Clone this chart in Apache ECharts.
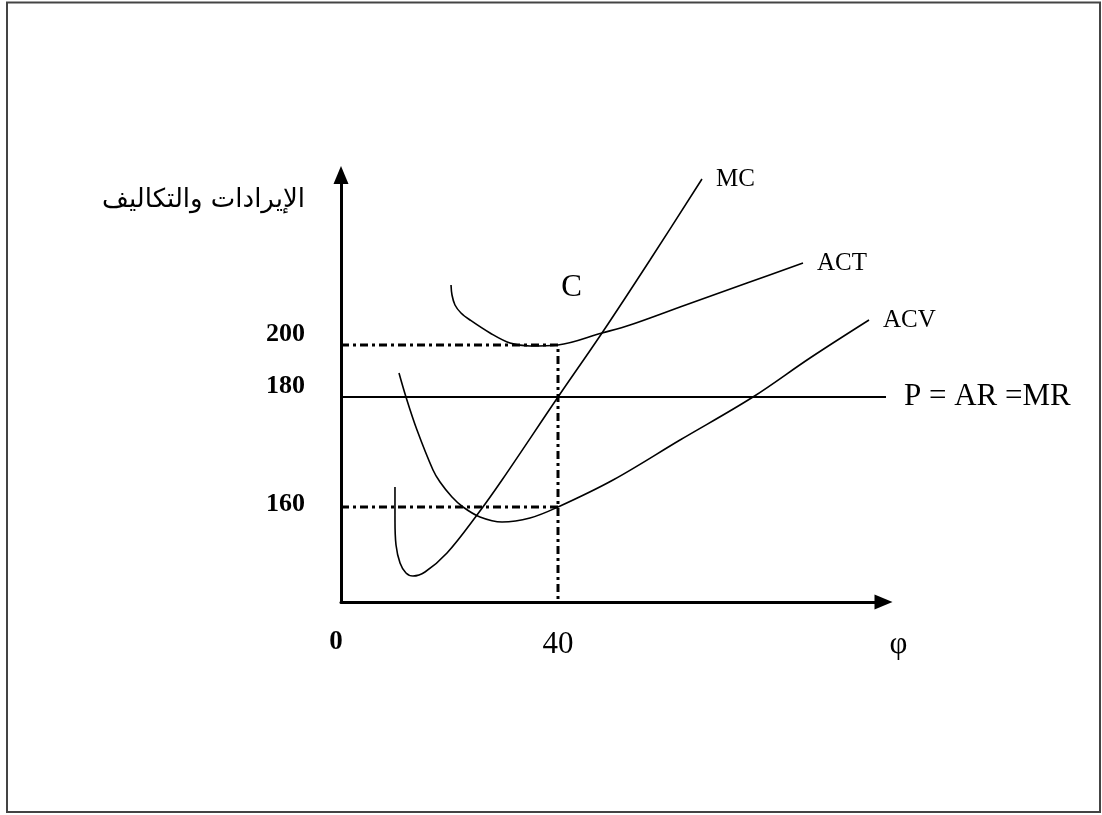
<!DOCTYPE html>
<html>
<head>
<meta charset="utf-8">
<script src="https://cdn.jsdelivr.net/npm/echarts@6/dist/echarts.min.js"></script>
<style>
html,body{margin:0;padding:0;background:#fff;}
#chart{width:1102px;height:815px;}
</style>
</head>
<body>
<div id="chart"></div>
<script>
// ---- data (quantity on x, schematic cost level on y) ----
const xTickValues = [0, 40];
const xTickLabels = ['0', '40'];
const levelLabels = ['200', '180', '160'];
const levelValues = [128.5, 102.5, 47.5];   // schematic heights of the 200 / 180 / 160 levels
const qStar = 40;
const priceLevel = 102.5;                   // P = AR = MR (180)
const priceLineEnd = 100.8;

const mcPoints = [[9.95,57.5],[9.95,41],[10.14,28.5],[10.88,19.5],[11.98,14.5],[13.27,13],[15.48,15],[19.54,24.5],[25.07,43.5],[29.68,61],[40,102.5],[48.11,134.5],[56.96,171],[66.54,211.5]];
const actPoints = [[20.28,158.5],[20.46,153.5],[21.01,148.5],[22.12,144.5],[23.78,141],[27.47,134.5],[31.15,129.5],[34.84,128],[40,128.5],[48.11,134.5],[53.27,138.5],[62.49,147.5],[74.84,159.5],[85.16,169.5]];
const acvPoints = [[10.69,114.5],[11.98,102.5],[14.01,86],[16.96,66],[18.25,60],[20.46,52.5],[22.49,47.5],[25.62,42.5],[29.68,40],[34.84,42],[40,47.5],[50.14,61],[62.49,81],[75.94,102.5],[86.45,122],[97.33,141]];
const seriesNames = ['MC', 'ACT', 'ACV', 'P = AR =MR'];
const pointC = {label: 'C', x: 42.5, y: 157};
const yTitle = 'الإيرادات والتكاليف';
const xTitle = 'φ';

const serif = 'Liberation Serif, Times New Roman, serif';
const chart = echarts.init(document.getElementById('chart'), null, {renderer: 'canvas'});

function curve(name, pts) {
  return {
    type: 'line', name: name, data: pts, smooth: 0.35, symbol: 'none', clip: false,
    lineStyle: {color: '#000', width: 1.6},
    endLabel: {show: true, formatter: name, distance: 14, color: '#000', fontFamily: serif, fontSize: 25},
    z: 3
  };
}

const dashDot = [8, 4, 3, 4];

const option = {
  animation: false,
  backgroundColor: '#fff',
  grid: {left: 341, right: 218.5, top: 175, bottom: 213},
  xAxis: {
    type: 'value', min: 0, max: 100,
    axisLine: {onZero: false, lineStyle: {color: '#000', width: 3}, symbol: ['none', 'triangle'], symbolSize: [15, 18]},
    axisTick: {show: false},
    splitLine: {show: false},
    axisLabel: {
      customValues: xTickValues,
      margin: 27,
      formatter: function (v) {
        const i = xTickValues.indexOf(v);
        if (i < 0) return '';
        return i === 0 ? '{b|' + xTickLabels[i] + '}' : '{n|' + xTickLabels[i] + '}';
      },
      rich: {
        b: {fontFamily: serif, fontWeight: 'bold', fontSize: 27, color: '#000', padding: [0, 10, 8, 0]},
        n: {fontFamily: serif, fontSize: 31, color: '#000'}
      }
    },
    name: xTitle, nameLocation: 'end', nameGap: 15,
    nameTextStyle: {fontFamily: serif, fontSize: 31, color: '#000', align: 'center', verticalAlign: 'top', padding: [27, 0, 0, 0]}
  },
  yAxis: {
    type: 'value', min: 0, max: 213.5,
    axisLine: {onZero: false, lineStyle: {color: '#000', width: 3}, symbol: ['none', 'triangle'], symbolSize: [15, 18]},
    axisTick: {show: false},
    splitLine: {show: false},
    axisLabel: {
      customValues: levelValues,
      margin: 36,
      formatter: function (v) {
        const i = levelValues.indexOf(v);
        if (i < 0) return '';
        return (i < 2 ? '{u|' : '{m|') + levelLabels[i] + '}';
      },
      rich: {
        u: {fontFamily: serif, fontWeight: 'bold', fontSize: 26, color: '#000', padding: [0, 0, 22, 0]},
        m: {fontFamily: serif, fontWeight: 'bold', fontSize: 26, color: '#000', padding: [0, 0, 6, 0]}
      }
    },
    name: yTitle, nameLocation: 'end', nameGap: -25,
    nameTextStyle: {fontFamily: 'DejaVu Sans, sans-serif', fontSize: 26, color: '#000', align: 'right', verticalAlign: 'middle', padding: [0, 36, 0, 0]}
  },
  graphic: [{
    type: 'rect', silent: true,
    shape: {x: 7, y: 2.5, width: 1093, height: 809.5},
    style: {fill: 'none', stroke: '#444', lineWidth: 2}
  }],
  series: [
    curve(seriesNames[0], mcPoints),
    curve(seriesNames[1], actPoints),
    curve(seriesNames[2], acvPoints),
    {
      type: 'line', name: seriesNames[3], symbol: 'none', clip: false,
      data: [[0, priceLevel], [priceLineEnd, priceLevel]],
      lineStyle: {color: '#000', width: 1.8},
      endLabel: {show: true, formatter: seriesNames[3], distance: 18, color: '#000', fontFamily: serif, fontSize: 31},
      z: 3
    },
    {
      type: 'line', name: 'level200', symbol: 'none',
      data: [[0, levelValues[0]], [qStar, levelValues[0]], [qStar, 1.5]],
      lineStyle: {color: '#000', width: 3, type: dashDot}, z: 2
    },
    {
      type: 'line', name: 'level160', symbol: 'none',
      data: [[0, levelValues[2]], [qStar, levelValues[2]]],
      lineStyle: {color: '#000', width: 3, type: dashDot}, z: 2
    },
    {
      type: 'scatter', name: 'pointC', symbolSize: 0, silent: true,
      itemStyle: {opacity: 1},
      data: [[pointC.x, pointC.y]],
      label: {show: true, position: 'inside', formatter: pointC.label, fontFamily: serif, fontSize: 31, color: '#000', opacity: 1}
    }
  ]
};
chart.setOption(option);
</script>
</body>
</html>
